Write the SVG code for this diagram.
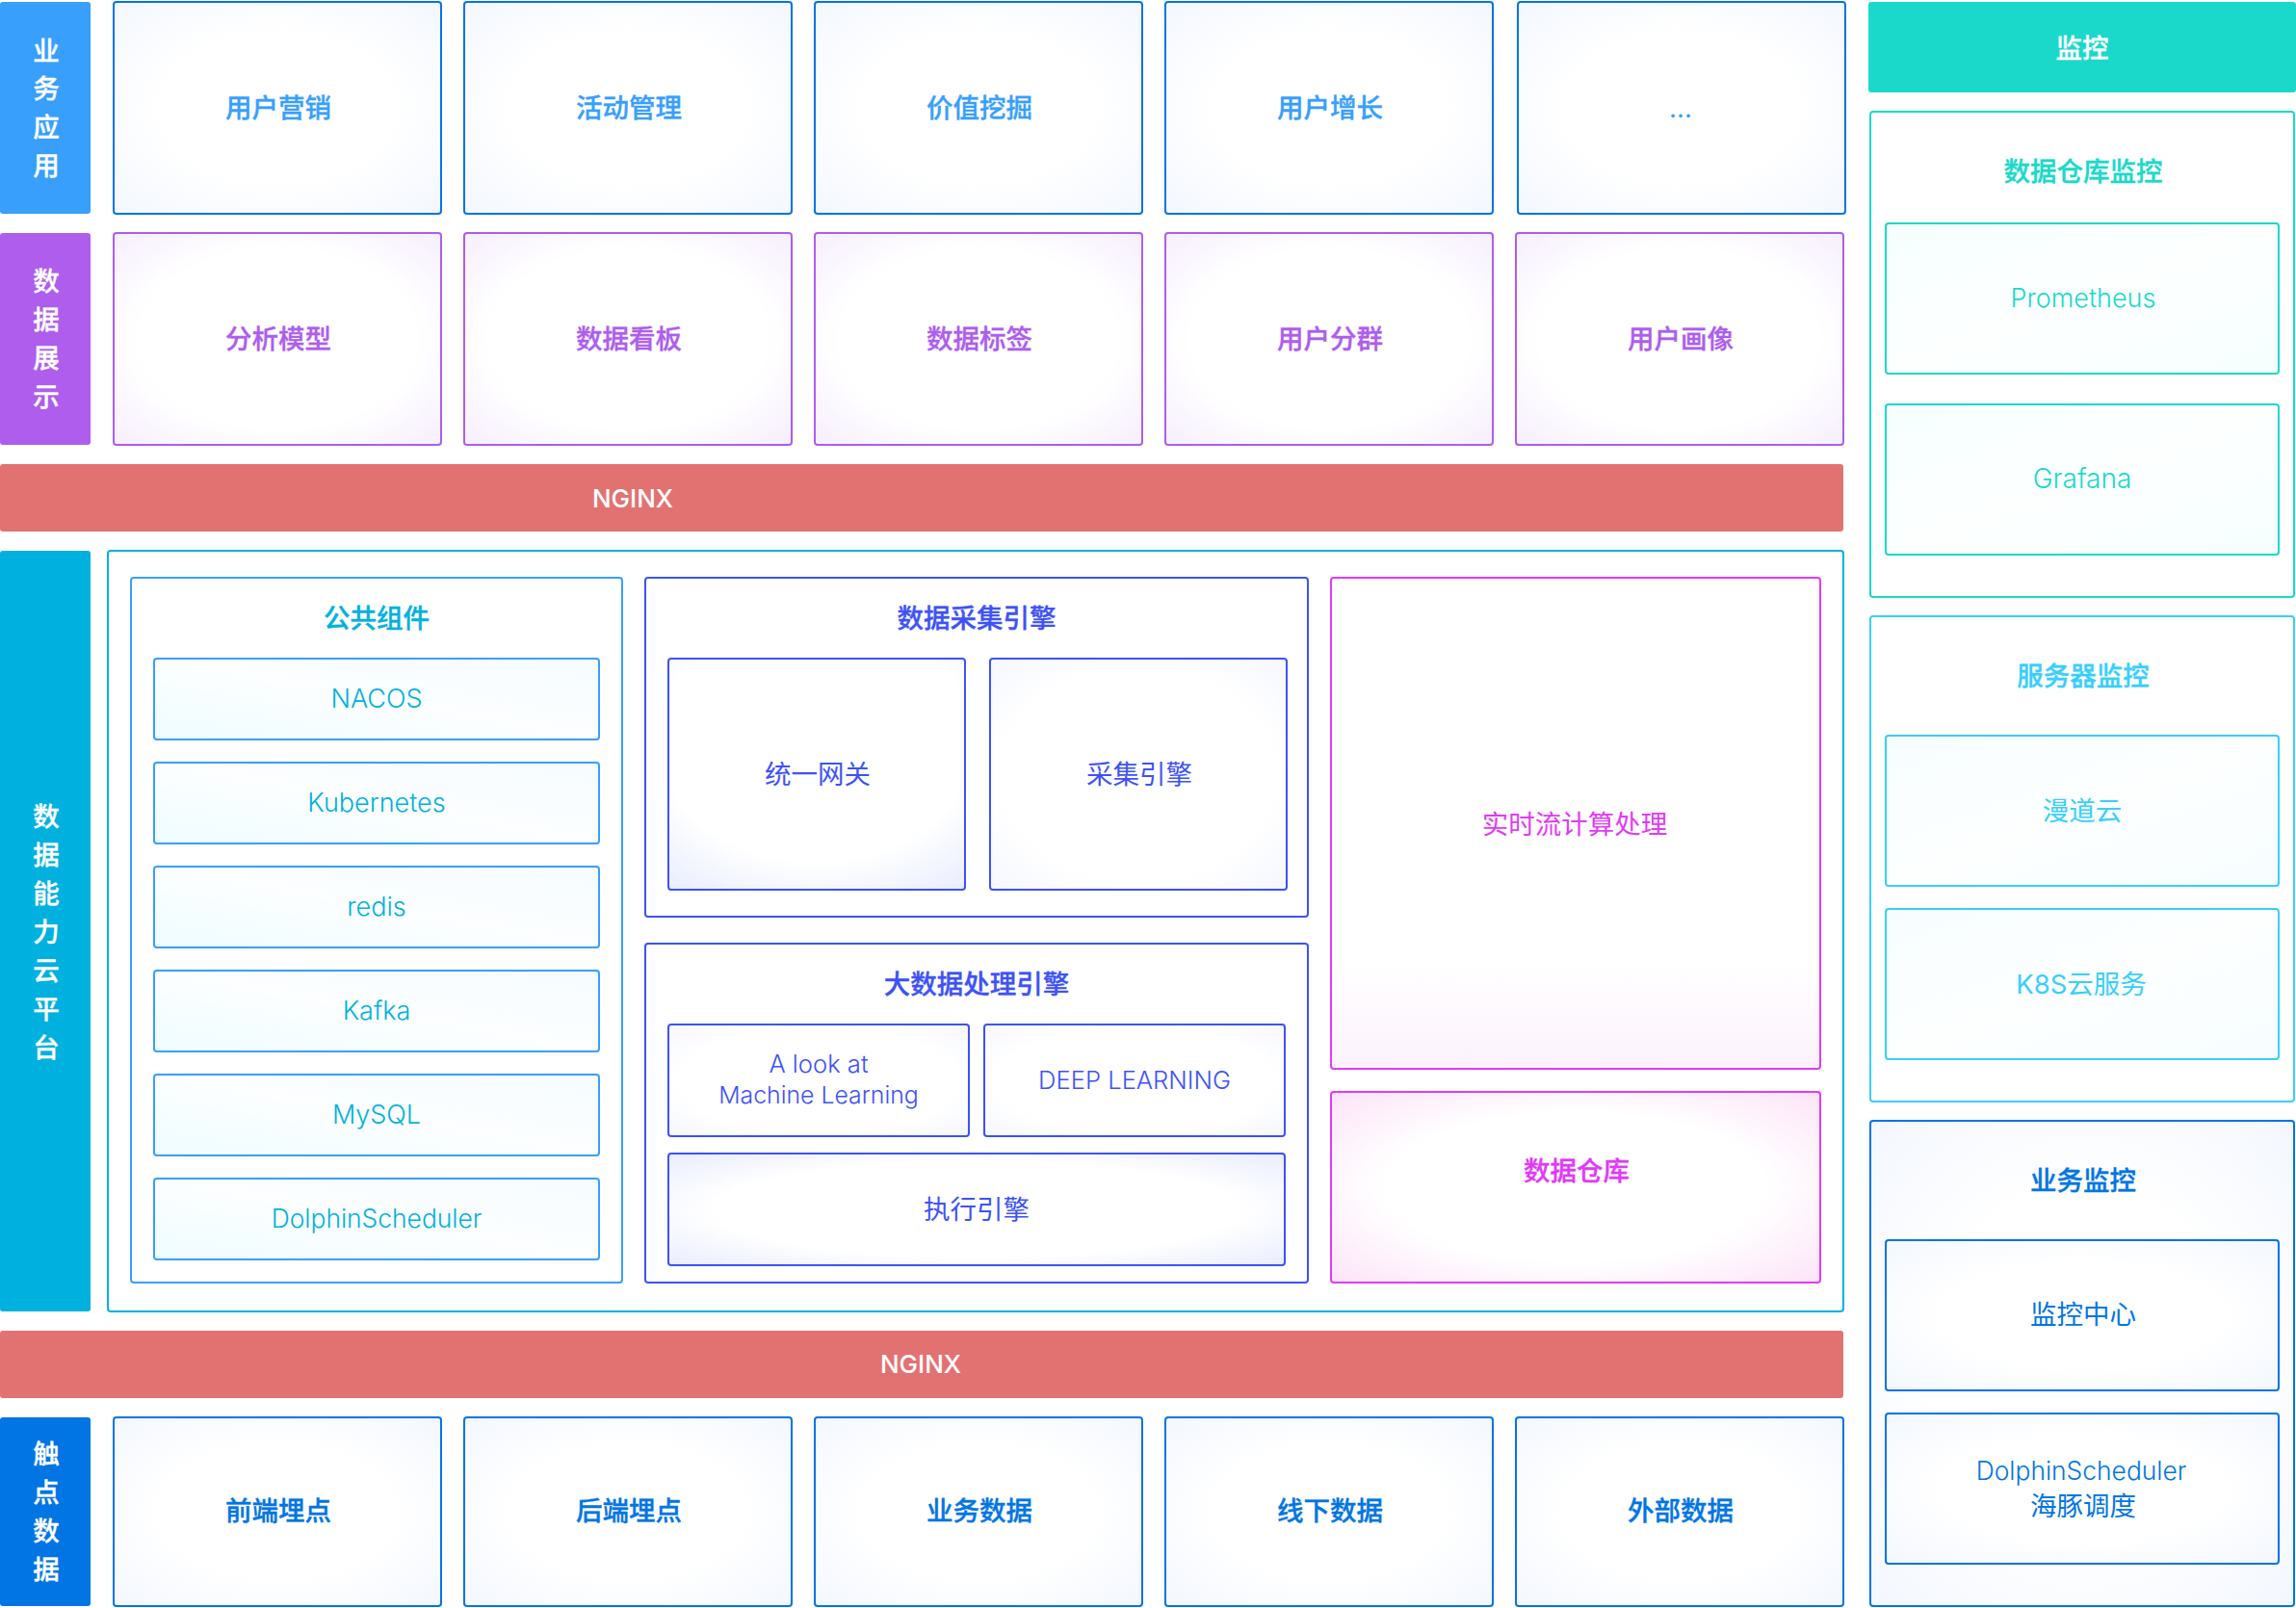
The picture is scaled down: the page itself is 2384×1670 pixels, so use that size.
<svg xmlns="http://www.w3.org/2000/svg" width="2384" height="1670" viewBox="0 0 2384 1670">
<style>
text{font-family:"Inter","Noto Sans CJK SC","Noto Sans",sans-serif;font-size:27.5px;text-anchor:middle;dominant-baseline:central;font-weight:400;stroke-width:0}
.b{font-weight:500;stroke-width:.35px}
.l{font-size:27px;font-weight:300}
.s{font-size:26.4px;font-weight:300}
.m{font-size:25.6px;font-weight:300}
.n{font-size:26px;font-weight:500}
.w{fill:#fff;stroke:#fff}
rect{stroke-width:2}
.f{stroke:none}
.blue{stroke:#0075e3;fill:url(#gb)}
.purple{stroke:#ae5ded;fill:url(#gp)}
.tealp{stroke:#1ad9cb;fill:#fff}
.teal{stroke:#1ad9cb;fill:url(#gt)}
.cyanp{stroke:#38cffd;fill:#fff}
.cyan{stroke:#38cffd;fill:url(#gc)}
.main{stroke:#00b1e0;fill:#fff}
.compp{stroke:#389ffd;fill:#fff}
.comp{stroke:#389ffd;fill:url(#gc2)}
.indp{stroke:#3e52f7;fill:#fff}
.ind{stroke:#3e52f7;fill:url(#gi)}
.indl{stroke:#3e52f7;fill:url(#gil)}
.inde{stroke:#3e52f7;fill:url(#gie)}
.mag{stroke:#e13af7;fill:url(#gm)}
.mag2{stroke:#e13af7;fill:url(#gm2)}
.t1{fill:#389ffd;stroke:#389ffd}.t2{fill:#ae5ded;stroke:#ae5ded}.t3{fill:#1ad9cb;stroke:#1ad9cb}.t4{fill:#38cffd;stroke:#38cffd}.t5{fill:#0075e3;stroke:#0075e3}.t6{fill:#00b1e0;stroke:#00b1e0}.t7{fill:#3e52f7;stroke:#3e52f7}.t8{fill:#e13af7;stroke:#e13af7}
</style>
<defs>
<radialGradient id="gb" cx="0.5" cy="0.5" r="0.71"><stop offset="0.5" stop-color="#fff"/><stop offset="1" stop-color="#f3f7fe"/></radialGradient>
<radialGradient id="gp" cx="0.5" cy="0.5" r="0.71"><stop offset="0.6" stop-color="#fff"/><stop offset="1" stop-color="#f6eefe"/></radialGradient>
<linearGradient id="gt" x1="0" y1="0" x2="1" y2="1"><stop offset="0" stop-color="#f6fffe"/><stop offset="0.5" stop-color="#fdffff"/><stop offset="1" stop-color="#f6fffe"/></linearGradient>
<linearGradient id="gc" x1="0" y1="0" x2="1" y2="1"><stop offset="0" stop-color="#f7fdff"/><stop offset="0.5" stop-color="#fdffff"/><stop offset="1" stop-color="#f7fdff"/></linearGradient>
<linearGradient id="gc2" x1="0" y1="1" x2="1" y2="0"><stop offset="0" stop-color="#effdff"/><stop offset="0.5" stop-color="#fcfeff"/><stop offset="1" stop-color="#f6fcff"/></linearGradient>
<radialGradient id="gi" cx="0.5" cy="0.35" r="0.85"><stop offset="0.62" stop-color="#fff"/><stop offset="1" stop-color="#e6ebfe"/></radialGradient>
<radialGradient id="gil" cx="0.5" cy="0.5" r="0.71"><stop offset="0.65" stop-color="#fff"/><stop offset="1" stop-color="#f5f7ff"/></radialGradient>
<radialGradient id="gie" cx="0.5" cy="0.5" r="0.71"><stop offset="0.6" stop-color="#fff"/><stop offset="1" stop-color="#e8ecfe"/></radialGradient>
<linearGradient id="gm" x1="0" y1="0" x2="0" y2="1"><stop offset="0.78" stop-color="#fff"/><stop offset="1" stop-color="#fcf2fd"/></linearGradient>
<radialGradient id="gm2" cx="0.5" cy="0.5" r="0.71"><stop offset="0.55" stop-color="#fff"/><stop offset="1" stop-color="#fde2f8"/></radialGradient>
</defs>

<g id="label-biz"><rect class="f" x="0" y="2" width="94" height="220" rx="3" fill="#389ffd"/>
<text class="b w" x="48" y="53">业</text><text class="b w" x="48" y="92">务</text><text class="b w" x="48" y="132">应</text><text class="b w" x="48" y="172">用</text></g>
<g id="biz-1"><rect class="blue" x="118" y="2" width="340" height="220" rx="3"/><text class="b t1" x="289" y="112">用户营销</text></g>
<g id="biz-2"><rect class="blue" x="482" y="2" width="340" height="220" rx="3"/><text class="b t1" x="653" y="112">活动管理</text></g>
<g id="biz-3"><rect class="blue" x="846" y="2" width="340" height="220" rx="3"/><text class="b t1" x="1017" y="112">价值挖掘</text></g>
<g id="biz-4"><rect class="blue" x="1210" y="2" width="340" height="220" rx="3"/><text class="b t1" x="1381" y="112">用户增长</text></g>
<g id="biz-5"><rect class="blue" x="1576" y="2" width="340" height="220" rx="3"/><text class="t1" x="1745" y="112">...</text></g>

<g id="label-show"><rect class="f" x="0" y="242" width="94" height="220" rx="3" fill="#ae5ded"/>
<text class="b w" x="48" y="292">数</text><text class="b w" x="48" y="332">据</text><text class="b w" x="48" y="372">展</text><text class="b w" x="48" y="412">示</text></g>
<g id="show-1"><rect class="purple" x="118" y="242" width="340" height="220" rx="3"/><text class="b t2" x="289" y="352">分析模型</text></g>
<g id="show-2"><rect class="purple" x="482" y="242" width="340" height="220" rx="3"/><text class="b t2" x="653" y="352">数据看板</text></g>
<g id="show-3"><rect class="purple" x="846" y="242" width="340" height="220" rx="3"/><text class="b t2" x="1017" y="352">数据标签</text></g>
<g id="show-4"><rect class="purple" x="1210" y="242" width="340" height="220" rx="3"/><text class="b t2" x="1381" y="352">用户分群</text></g>
<g id="show-5"><rect class="purple" x="1574" y="242" width="340" height="220" rx="3"/><text class="b t2" x="1745" y="352">用户画像</text></g>

<g id="nginx-top"><rect class="f" x="0" y="482" width="1914" height="70" rx="3" fill="#e27272"/><text class="n w" x="657" y="517">NGINX</text></g>

<g id="label-platform"><rect class="f" x="0" y="572" width="94" height="790" rx="3" fill="#00b1e0"/>
<text class="b w" x="48" y="848">数</text><text class="b w" x="48" y="888">据</text><text class="b w" x="48" y="928">能</text><text class="b w" x="48" y="968">力</text><text class="b w" x="48" y="1008">云</text><text class="b w" x="48" y="1048">平</text><text class="b w" x="48" y="1088">台</text></g>
<g id="platform"><rect class="main" x="112" y="572" width="1802" height="790" rx="3"/></g>

<g id="common"><rect class="compp" x="136" y="600" width="510" height="732" rx="3"/><text class="b t6" x="391" y="642">公共组件</text></g>
<g id="nacos"><rect class="comp" x="160" y="684" width="462" height="84" rx="3"/><text class="l t6" x="391" y="725">NACOS</text></g>
<g id="kubernetes"><rect class="comp" x="160" y="792" width="462" height="84" rx="3"/><text class="l t6" x="391" y="833">Kubernetes</text></g>
<g id="redis"><rect class="comp" x="160" y="900" width="462" height="84" rx="3"/><text class="l t6" x="391" y="941">redis</text></g>
<g id="kafka"><rect class="comp" x="160" y="1008" width="462" height="84" rx="3"/><text class="l t6" x="391" y="1049">Kafka</text></g>
<g id="mysql"><rect class="comp" x="160" y="1116" width="462" height="84" rx="3"/><text class="l t6" x="391" y="1157">MySQL</text></g>
<g id="dolphin"><rect class="comp" x="160" y="1224" width="462" height="84" rx="3"/><text class="s t6" x="391" y="1265">DolphinScheduler</text></g>

<g id="collect"><rect class="indp" x="670" y="600" width="688" height="352" rx="3"/><text class="b t7" x="1014" y="642">数据采集引擎</text></g>
<g id="gateway"><rect class="ind" x="694" y="684" width="308" height="240" rx="3"/><text class="t7" x="849" y="804">统一网关</text></g>
<g id="collector"><rect class="indl" x="1028" y="684" width="308" height="240" rx="3"/><text class="t7" x="1183" y="804">采集引擎</text></g>

<g id="bigdata"><rect class="indp" x="670" y="980" width="688" height="352" rx="3"/><text class="b t7" x="1014" y="1022">大数据处理引擎</text></g>
<g id="ml"><rect class="indl" x="694" y="1064" width="312" height="116" rx="3"/><text class="m t7" x="850" y="1104">A look at</text><text class="t7" style="font-size:24.8px;font-weight:300" x="850" y="1137">Machine Learning</text></g>
<g id="dl"><rect class="indl" x="1022" y="1064" width="312" height="116" rx="3"/><text class="m t7" x="1178" y="1121">DEEP LEARNING</text></g>
<g id="exec"><rect class="inde" x="694" y="1198" width="640" height="116" rx="3"/><text class="t7" x="1014" y="1256">执行引擎</text></g>

<g id="realtime"><rect class="mag" x="1382" y="600" width="508" height="510" rx="3"/><text class="t8" x="1635" y="856">实时流计算处理</text></g>
<g id="warehouse"><rect class="mag2" x="1382" y="1134" width="508" height="198" rx="3"/><text class="b t8" x="1637" y="1216">数据仓库</text></g>

<g id="nginx-bottom"><rect class="f" x="0" y="1382" width="1914" height="70" rx="3" fill="#e27272"/><text class="n w" x="956" y="1416">NGINX</text></g>

<g id="label-touch"><rect class="f" x="0" y="1472" width="94" height="196" rx="3" fill="#0075e3"/>
<text class="b w" x="48" y="1510">触</text><text class="b w" x="48" y="1550">点</text><text class="b w" x="48" y="1590">数</text><text class="b w" x="48" y="1630">据</text></g>
<g id="touch-1"><rect class="blue" x="118" y="1472" width="340" height="196" rx="3"/><text class="b t5" x="289" y="1569">前端埋点</text></g>
<g id="touch-2"><rect class="blue" x="482" y="1472" width="340" height="196" rx="3"/><text class="b t5" x="653" y="1569">后端埋点</text></g>
<g id="touch-3"><rect class="blue" x="846" y="1472" width="340" height="196" rx="3"/><text class="b t5" x="1017" y="1569">业务数据</text></g>
<g id="touch-4"><rect class="blue" x="1210" y="1472" width="340" height="196" rx="3"/><text class="b t5" x="1381" y="1569">线下数据</text></g>
<g id="touch-5"><rect class="blue" x="1574" y="1472" width="340" height="196" rx="3"/><text class="b t5" x="1745" y="1569">外部数据</text></g>

<g id="monitor-head"><rect class="f" x="1940" y="2" width="444" height="94" rx="3" fill="#1ad9cb"/><text class="b w" x="2162" y="50">监控</text></g>

<g id="dw-monitor"><rect class="tealp" x="1942" y="116" width="440" height="504" rx="3"/><text class="b t3" x="2163" y="178">数据仓库监控</text></g>
<g id="prometheus"><rect class="teal" x="1958" y="232" width="408" height="156" rx="3"/><text class="l t3" x="2163" y="309">Prometheus</text></g>
<g id="grafana"><rect class="teal" x="1958" y="420" width="408" height="156" rx="3"/><text class="l t3" style="font-size:28px" x="2162" y="497">Grafana</text></g>

<g id="server-monitor"><rect class="cyanp" x="1942" y="640" width="440" height="504" rx="3"/><text class="b t4" x="2163" y="702">服务器监控</text></g>
<g id="zentao"><rect class="cyan" x="1958" y="764" width="408" height="156" rx="3"/><text class="t4" x="2162" y="842">漫道云</text></g>
<g id="k8s"><rect class="cyan" x="1958" y="944" width="408" height="156" rx="3"/><text class="t4" x="2161" y="1022">K8S云服务</text></g>

<g id="biz-monitor"><rect class="blue" x="1942" y="1164" width="440" height="504" rx="3"/><text class="b t5" x="2163" y="1226">业务监控</text></g>
<g id="monitor-center"><rect class="blue" x="1958" y="1288" width="408" height="156" rx="3"/><text class="t5" x="2163" y="1365">监控中心</text></g>
<g id="dolphin-monitor"><rect class="blue" x="1958" y="1468" width="408" height="156" rx="3"/><text class="s t5" x="2161" y="1527">DolphinScheduler</text><text class="t5" x="2163" y="1564">海豚调度</text></g>
</svg>
